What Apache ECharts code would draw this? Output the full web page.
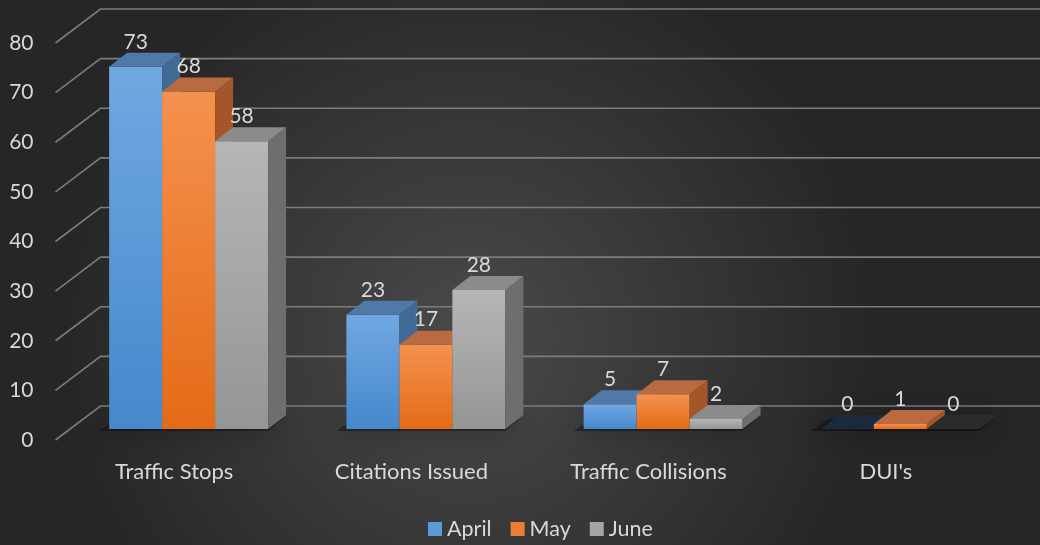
<!DOCTYPE html>
<html><head><meta charset="utf-8">
<script src="https://cdn.jsdelivr.net/npm/echarts@6/dist/echarts.min.js"></script>
<style>html,body{margin:0;padding:0;background:#333}#c{width:1040px;height:545px}</style>
</head><body><div id="c"></div>
<script>
const categories = ["Traffic Stops", "Citations Issued", "Traffic Collisions", "DUI's"];
const april = [73, 23, 5, 0];
const may = [68, 17, 7, 1];
const june = [58, 28, 2, 0];
const yTicks = [0, 10, 20, 30, 40, 50, 60, 70, 80];

const seriesNames = ['April', 'May', 'June'];
const seriesData = [april, may, june];
const palette = [
  {legend:'#5b9bd5', frontTop:'#70a8e2', frontBot:'#4588cc', top:'#4f79a7', side:'#416a94', zeroTop:'#1b2a3c'},
  {legend:'#ed7d31', frontTop:'#f5914f', frontBot:'#e46b17', top:'#b96a41', side:'#a4552a', zeroTop:'#4a2c1a'},
  {legend:'#a5a5a5', frontTop:'#b6b6b6', frontBot:'#959595', top:'#8b8b8b', side:'#6e6e6e', zeroTop:'#2b2b2b'}
];
const FONT = 'Lato, "Open Sans", sans-serif';
const TXT = '#d9d9d9';
const REF_BAND = 237.3;

function geom(api, ci) {
  const band = api.size([1, 0])[0];
  const k = band / REF_BAND;
  return {band, bw: 53 * k, dx: 18 * k, dy: 14 * k};
}

function barRenderer(s) {
  return function (params, api) {
    const ci = api.value(0), v = api.value(1);
    const g = geom(api, ci);
    const c = api.coord([ci, 0]);
    const yB = c[1];
    const yT = api.coord([ci, v])[1];
    const left = c[0] - 1.5 * g.bw + s * g.bw;
    const right = left + g.bw;
    const p = palette[s];
    const children = [];
    if (v > 0) {
      children.push({type:'polygon', shape:{points:[[left,yT],[right,yT],[right,yB],[left,yB]]},
        style:{fill:{type:'linear',x:0,y:0,x2:0,y2:1,colorStops:[{offset:0,color:p.frontTop},{offset:1,color:p.frontBot}]}}});
      children.push({type:'polygon', shape:{points:[[right,yT],[right+g.dx,yT-g.dy],[right+g.dx,yB-g.dy],[right,yB]]},
        style:{fill:p.side}});
    }
    children.push({type:'polygon', shape:{points:[[left,yT],[right,yT],[right+g.dx,yT-g.dy],[left+g.dx,yT-g.dy]]},
      style:{fill: v > 0 ? p.top : p.zeroTop}});
    children.push({type:'text', z2: 100, style:{text:String(v), x:(left+right)/2, y:yT-g.dy-11,
      align:'center', verticalAlign:'middle', fill:TXT, fontSize:21, fontFamily:FONT}});
    return {type:'group', children};
  };
}

const shadowData = categories.map((c, i) => [i, 0]);
const gridData = yTicks.map(v => [0, v]);

const series = [
  {
    type:'custom', name:'_grid', xAxisIndex:0, yAxisIndex:0, z:1, silent:true,
    data: gridData, encode:{x:0, y:1},
    renderItem: function (params, api) {
      const cs = params.coordSys;
      const y = api.coord([0, api.value(1)])[1];
      const g = geom(api, 0);
      const k = g.band / REF_BAND;
      const fx = cs.x - 14.5 * k, fy = y + 11 * k;
      const bx = cs.x + 30.5 * k, by = y - 23 * k;
      return {type:'polyline', shape:{points:[[fx,fy],[bx,by],[api.getWidth(),by]]},
        style:{stroke:'#7c7c7c', lineWidth:1.6, fill:null}};
    }
  },
  {
    type:'custom', name:'_shadow', xAxisIndex:0, yAxisIndex:0, z:2, silent:true,
    data: shadowData, encode:{x:0, y:1},
    renderItem: function (params, api) {
      const ci = api.value(0);
      const g = geom(api, ci);
      const c = api.coord([ci, 0]);
      const left = c[0] - 1.5 * g.bw, right = c[0] + 1.5 * g.bw;
      const yB = c[1];
      return {type:'polygon', shape:{points:[[left-10,yB+2],[right,yB+2],[right+g.dx-4,yB-g.dy+4],[left+g.dx-10,yB-g.dy+4]]},
        style:{fill:'rgba(0,0,0,0.35)', shadowBlur:26, shadowColor:'rgba(0,0,0,1)'}};
    }
  }
];
seriesNames.forEach((n, s) => {
  series.push({
    type:'custom', name:n, xAxisIndex:0, yAxisIndex:0, z:3,
    itemStyle:{color:palette[s].legend},
    data: seriesData[s].map((v, i) => [i, v]), encode:{x:0, y:1},
    renderItem: barRenderer(s)
  });
});

const chart = echarts.init(document.getElementById('c'), null, {renderer:'canvas'});
chart.setOption({
  animation:false,
  backgroundColor:{type:'radial', x:0.45, y:0.62, r:0.75,
    colorStops:[{offset:0,color:'#4a4a4a'},{offset:1,color:'#262626'}]},
  legend:{data:seriesNames, icon:'rect', itemWidth:14, itemHeight:14, itemGap:19,
    top:513, left:423, textStyle:{color:TXT, fontSize:21.5, fontFamily:FONT}},
  grid:[
    {left:70, right:21, top:32, bottom:116, containLabel:false},
    {left:55.5, right:35.5, top:43, bottom:105, containLabel:false}
  ],
  xAxis:[
    {type:'category', gridIndex:0, data:categories, show:false},
    {type:'category', gridIndex:1, data:categories, axisLine:{show:false}, axisTick:{show:false},
      axisLabel:{color:TXT, fontSize:22, fontFamily:FONT, margin:21}}
  ],
  yAxis:[
    {type:'value', gridIndex:0, min:0, max:80, interval:10, show:false},
    {type:'value', gridIndex:1, min:0, max:80, interval:10, axisLine:{show:false}, axisTick:{show:false},
      splitLine:{show:false}, axisLabel:{color:TXT, fontSize:21, fontFamily:FONT, margin:22}}
  ],
  series: series
});
</script></body></html>
